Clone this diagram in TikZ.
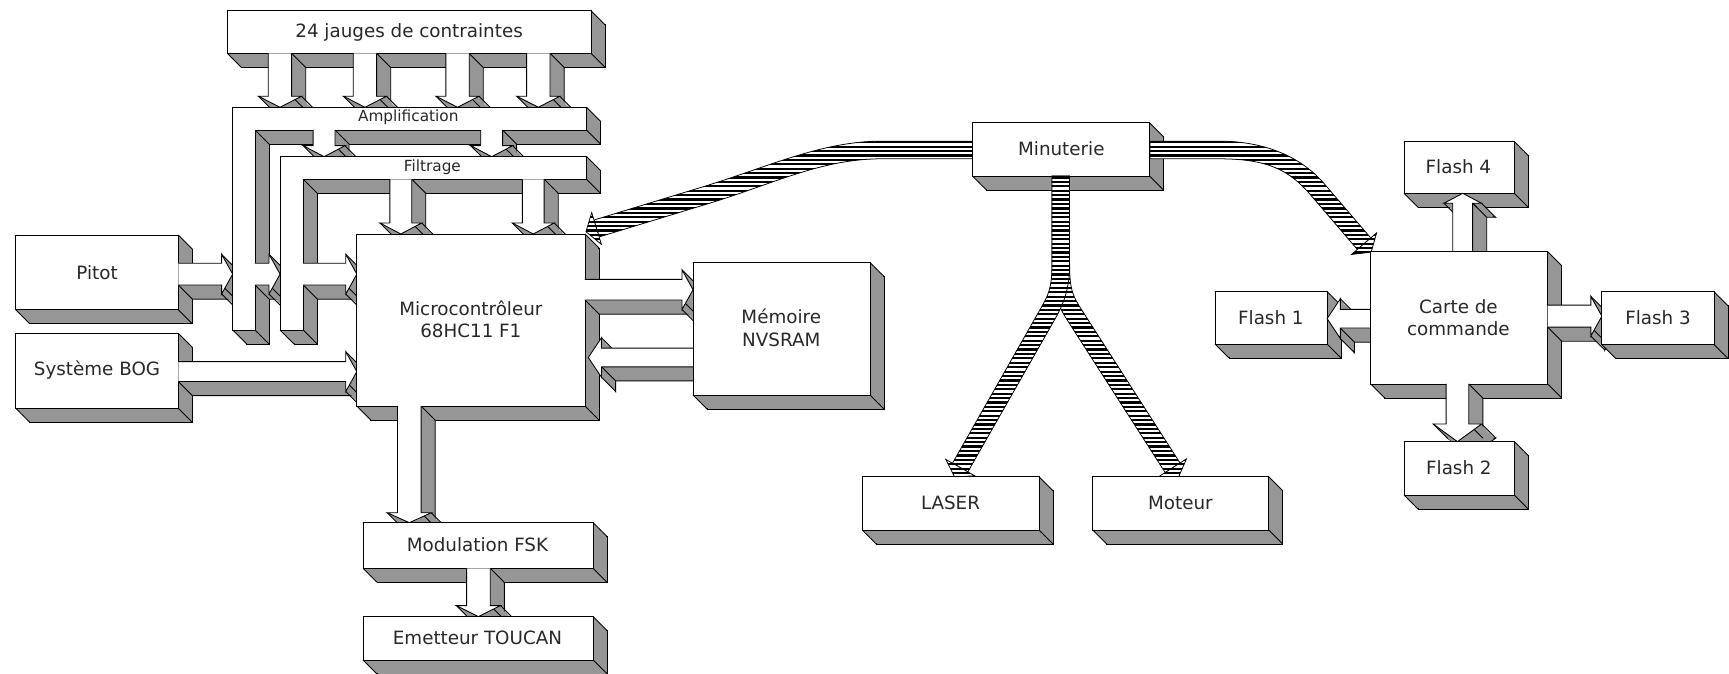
\documentclass[tikz,border=0pt]{standalone}
\usepackage{fontspec}
\setmainfont{DejaVu Sans}

\definecolor{sidegray}{RGB}{150,150,150}
\definecolor{inkgray}{RGB}{40,40,40}

\newcommand\extdepth{12.75}

% slanted edge drawn from every corner of an extruded outline
\pgfdeclareplotmark{depthedge}{%
  \pgfpathmoveto{\pgfpointorigin}%
  \pgfpathlineto{\pgfqpoint{12.75pt}{-12.75pt}}%
  \pgfusepathqstroke}

% 3D slab: #1 = "-- cycle" for closed outlines, empty for block arrows; #2 = corners
\newcommand\extrude[2]{%
  \filldraw[fill=sidegray,shift={(\extdepth,\extdepth)}] plot coordinates {#2} #1;
  \foreach \k in {1,...,16}
    {\fill[sidegray,shift={(\k*0.75,\k*0.75)}] plot coordinates {#2} #1;}
  \draw plot[only marks,mark=depthedge] coordinates {#2};
  \filldraw[fill=white] plot coordinates {#2} #1;
}

% box: left top right bottom
\newcommand\blockbox[4]{\extrude{-- cycle}{(#1,#2) (#3,#2) (#3,#4) (#1,#4)}}

% block arrows: centre, start, tip, half shaft, half head, head length
\newcommand\arrowdown[6]{%
  \pgfmathsetmacro\arwSL{#1-#4}\pgfmathsetmacro\arwSR{#1+#4}%
  \pgfmathsetmacro\arwHL{#1-#5}\pgfmathsetmacro\arwHR{#1+#5}%
  \pgfmathsetmacro\arwHB{#3-#6}%
  \extrude{}{(\arwSR,#2) (\arwSR,\arwHB) (\arwHR,\arwHB) (#1,#3) (\arwHL,\arwHB) (\arwSL,\arwHB) (\arwSL,#2)}}
\newcommand\arrowup[6]{%
  \pgfmathsetmacro\arwSL{#1-#4}\pgfmathsetmacro\arwSR{#1+#4}%
  \pgfmathsetmacro\arwHL{#1-#5}\pgfmathsetmacro\arwHR{#1+#5}%
  \pgfmathsetmacro\arwHB{#3+#6}%
  \extrude{}{(\arwSR,#2) (\arwSR,\arwHB) (\arwHR,\arwHB) (#1,#3) (\arwHL,\arwHB) (\arwSL,\arwHB) (\arwSL,#2)}}
\newcommand\arrowright[6]{%
  \pgfmathsetmacro\arwSL{#1-#4}\pgfmathsetmacro\arwSR{#1+#4}%
  \pgfmathsetmacro\arwHL{#1-#5}\pgfmathsetmacro\arwHR{#1+#5}%
  \pgfmathsetmacro\arwHB{#3-#6}%
  \extrude{}{(#2,\arwSL) (\arwHB,\arwSL) (\arwHB,\arwHL) (#3,#1) (\arwHB,\arwHR) (\arwHB,\arwSR) (#2,\arwSR)}}
\newcommand\arrowleft[6]{%
  \pgfmathsetmacro\arwSL{#1-#4}\pgfmathsetmacro\arwSR{#1+#4}%
  \pgfmathsetmacro\arwHL{#1-#5}\pgfmathsetmacro\arwHR{#1+#5}%
  \pgfmathsetmacro\arwHB{#3+#6}%
  \extrude{}{(#2,\arwSL) (\arwHB,\arwSL) (\arwHB,\arwHL) (#3,#1) (\arwHB,\arwHR) (\arwHB,\arwSR) (#2,\arwSR)}}

% striped ribbon: #1 = closed outline, #2..#5 = x-min, x-max, y-min, y-max of the stripes
\newcommand\ribbon[5]{%
  \begin{scope}
    \clip #1;
    \fill[white] (#2,#4) rectangle (#3,#5);
    \foreach \yy in {#4,\the\numexpr#4+4\relax,...,#5}
      {\fill[black] (#2,\yy) rectangle (#3,\yy+2);}
  \end{scope}
  \draw[line width=0.7pt] #1;
}

\begin{document}
\begin{tikzpicture}[x=1pt,y=-1pt,line width=0.8pt,
  lbl/.style={font=\fontsize{16.6}{20.6}\selectfont,align=center,inner sep=0pt,text=inkgray},
  lblsmall/.style={font=\fontsize{13.9}{16}\selectfont,inner sep=0pt,text=inkgray}]

\fill[white] (0,0) rectangle (1568,611);
\useasboundingbox (0,0) rectangle (1568,611);

% strain gauges and their outputs
\blockbox{206.2}{9.7}{536}{48.4}
\arrowdown{253.9}{48.4}{97.3}{10.6}{19.5}{10}
\arrowdown{331}{48.4}{97.3}{10.6}{19.5}{10}
\arrowdown{414.9}{48.4}{97.3}{10.6}{19.5}{10}
\arrowdown{488.2}{48.4}{97.3}{10.6}{19.5}{10}

% Pitot and BOG
\blockbox{14.3}{213.1}{161.7}{281}
\blockbox{14.3}{302.3}{161.7}{370.3}
\arrowright{248.6}{161.7}{211}{9.9}{18}{10}

% amplification stage
\extrude{-- cycle}{(211,97.3) (532,97.3) (532,117.9) (231.3,117.9) (231.3,299.3) (211,299.3)}
\arrowdown{293.9}{117.9}{142.1}{9.9}{19}{10}
\arrowdown{445.9}{117.9}{142.1}{9.9}{19}{10}
\arrowright{248.6}{231.3}{254}{9.9}{18}{10}

% filtering stage
\extrude{-- cycle}{(254,142.1) (532,142.1) (532,162.6) (275,162.6) (275,299.3) (254,299.3)}
\arrowdown{363.5}{162.6}{212.2}{9.9}{19}{10}
\arrowdown{483.6}{162.6}{212.2}{9.9}{19}{10}
\arrowright{248.6}{275}{323.6}{9.9}{18}{10}
\arrowright{337}{161.7}{323.6}{9}{18}{10}

% microcontroller and its links
\blockbox{323.6}{212.2}{530.5}{368.2}
\arrowright{262.7}{530.5}{628.5}{9.4}{18}{10}
\arrowleft{324.2}{628.5}{533.5}{8.5}{18}{12}
\arrowdown{371.2}{368.2}{474}{10.7}{20}{9}

\blockbox{628.5}{238}{789}{358.2}
\blockbox{329.2}{474}{537.9}{515.4}
\arrowdown{433.9}{515.4}{559.2}{10.7}{20}{10}
\blockbox{329.2}{559.2}{537.9}{598.5}

% timer and its striped links
\blockbox{882}{111.2}{1042.4}{159.6}

\ribbon{(882,128) -- (800,128) .. controls (745,128) and (697.66,151.04) .. (637.66,169.34)
  -- (538.66,199.54) -- (543.34,214.86) -- (642.34,184.66)
  .. controls (702.34,166.36) and (745,144) .. (800,144) -- (882,144) -- cycle}{520}{890}{120}{232}
\ribbon{(536.6,192.8) -- (531.4,210.1) -- (545.4,221.6) -- cycle}{520}{560}{188}{232}

\ribbon{(1043,128) -- (1105,128) .. controls (1150,128) and (1181.57,144) .. (1201.07,166.79)
  -- (1243.07,215.79) -- (1230.93,226.21) -- (1188.93,177.21)
  .. controls (1169.43,154.41) and (1150,144) .. (1105,144) -- (1043,144) -- cycle}{1035}{1260}{120}{240}
\ribbon{(1248.4,211.2) -- (1243.5,228.6) -- (1225.6,230.8) -- cycle}{1220}{1255}{204}{240}

\ribbon{(954,159.6) -- (954,240) .. controls (954,262) and (959.17,276.72) .. (967.27,289.32)
  -- (1056.67,428.52) -- (1070.13,419.88) -- (980.73,280.68)
  .. controls (972.63,268.08) and (970,262) .. (970,240) -- (970,159.6) -- cycle}{945}{1080}{156}{440}
\ribbon{(1050.8,432.3) -- (1068.8,432.6) -- (1076.0,416.1) -- cycle}{1045}{1080}{412}{440}

\ribbon{(954,159.6) -- (954,240) .. controls (954,262) and (950.45,268.04) .. (943.05,281.04)
  -- (863.8,420.04) -- (877.7,427.96) -- (956.95,288.96)
  .. controls (964.35,275.96) and (970,262) .. (970,240) -- (970,159.6) -- cycle}{855}{975}{156}{440}
\ribbon{(857.7,416.6) -- (865.8,432.7) -- (883.8,431.4) -- cycle}{852}{890}{412}{440}

\blockbox{782}{432.3}{942.3}{480.6}
\blockbox{991}{432.3}{1150.5}{480.6}

% control board and flashes
\blockbox{1273.3}{128.5}{1373.3}{175.3}
\arrowup{1326.5}{228.2}{175.3}{9}{17}{9}
\blockbox{1101.8}{264.5}{1203.5}{312}
\arrowleft{289}{1243.1}{1203.5}{8.5}{18}{12}
\blockbox{1243.1}{228.2}{1403.5}{348.2}
\arrowright{286.7}{1403.5}{1452.7}{10}{18}{10}
\arrowdown{1321.7}{348.2}{400.5}{10.3}{22}{16}
\blockbox{1452.7}{264.5}{1554.4}{312.5}
\blockbox{1273.3}{400.5}{1373.3}{448.9}

% labels
\node[lbl] (jauges) at (371,29) {24 jauges de contraintes};
\node[lblsmall] (ampli) at (370.3,106.5) {Amplification};
\node[lblsmall] (filtre) at (392.1,151.5) {Filtrage};
\node[lbl] (pitot) at (88,247) {Pitot};
\node[lbl] (bog) at (88,336) {Système BOG};
\node[lbl] (micro) at (427,289.5) {Microcontrôleur\\68HC11 F1};
\node[lbl] (nvsram) at (708.5,297.5) {Mémoire\\NVSRAM};
\node[lbl] (fsk) at (433,494) {Modulation FSK};
\node[lbl] (toucan) at (433,578) {Emetteur TOUCAN};
\node[lbl] (minut) at (962.5,135) {Minuterie};
\node[lbl] (laser) at (862,456) {LASER};
\node[lbl] (moteur) at (1070.5,456) {Moteur};
\node[lbl] (carte) at (1322.6,288) {Carte de\\commande};
\node[lbl] (flashq) at (1322.6,151.5) {Flash 4};
\node[lbl] (flasha) at (1152.5,288) {Flash 1};
\node[lbl] (flashc) at (1503.6,288) {Flash 3};
\node[lbl] (flashb) at (1323,424) {Flash 2};
\end{tikzpicture}
\end{document}
